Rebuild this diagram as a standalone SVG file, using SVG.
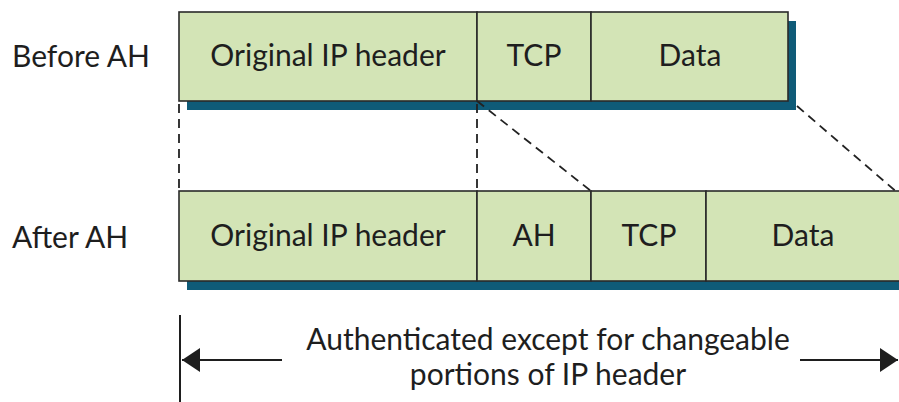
<svg xmlns="http://www.w3.org/2000/svg" width="899" height="402" viewBox="0 0 899 402">
<defs>
<style>
.box{fill:#d3e4b6;stroke:#2a2a2a;stroke-width:1.6}
.shadow{fill:#0f5b78}
.t{font-family:Lato,"Liberation Sans",sans-serif;font-size:30px;fill:#1e1e1e}
.m{text-anchor:middle}
.dash{stroke:#222;stroke-width:1.8;stroke-dasharray:9,6;fill:none}
.ln{stroke:#1e1e1e;stroke-width:2;fill:none}
</style>
<marker id="ah" viewBox="0 0 18 24" refX="18" refY="12" markerWidth="18" markerHeight="24" markerUnits="userSpaceOnUse" orient="auto">
<path d="M0,0 L18,12 L0,24 Z" fill="#1e1e1e"/>
</marker>
</defs>
<rect width="899" height="402" fill="#ffffff"/>
<text class="t" x="12" y="67">Before AH</text>
<text class="t" x="12" y="248">After AH</text>
<g id="before">
<rect class="shadow" x="187" y="21" width="609" height="89"/>
<g id="before-ip"><rect class="box" x="179" y="12" width="298" height="89"/><text class="t m" x="328" y="66">Original IP header</text></g>
<g id="before-tcp"><rect class="box" x="477" y="12" width="114" height="89"/><text class="t m" x="534" y="66">TCP</text></g>
<g id="before-data"><rect class="box" x="591" y="12" width="197" height="89"/><text class="t m" x="690" y="66">Data</text></g>
</g>
<g id="after">
<rect class="shadow" x="187" y="200" width="720" height="90"/>
<g id="after-ip"><rect class="box" x="179" y="191" width="298" height="90"/><text class="t m" x="328" y="246">Original IP header</text></g>
<g id="after-ah"><rect class="box" x="477" y="191" width="114" height="90"/><text class="t m" x="534" y="246">AH</text></g>
<g id="after-tcp"><rect class="box" x="591" y="191" width="115" height="90"/><text class="t m" x="649" y="246">TCP</text></g>
<g id="after-data"><rect class="box" x="706" y="191" width="200" height="90"/><text class="t m" x="803" y="246">Data</text></g>
</g>
<g id="connectors">
<line class="dash" x1="179" y1="104" x2="179" y2="191"/>
<line class="dash" x1="477" y1="104" x2="477" y2="191"/>
<line class="dash" x1="477" y1="101" x2="591" y2="191"/>
<line class="dash" x1="797" y1="106" x2="899" y2="194"/>
<line class="ln" x1="180" y1="315" x2="180" y2="402"/>
<line class="ln" x1="282" y1="360" x2="182" y2="360" marker-end="url(#ah)"/>
<line class="ln" x1="800" y1="360" x2="898" y2="360" marker-end="url(#ah)"/>
</g>
<g id="label">
<text class="t m" x="548" y="350">Authenticated except for changeable</text>
<text class="t m" x="548" y="385">portions of IP header</text>
</g>
</svg>
